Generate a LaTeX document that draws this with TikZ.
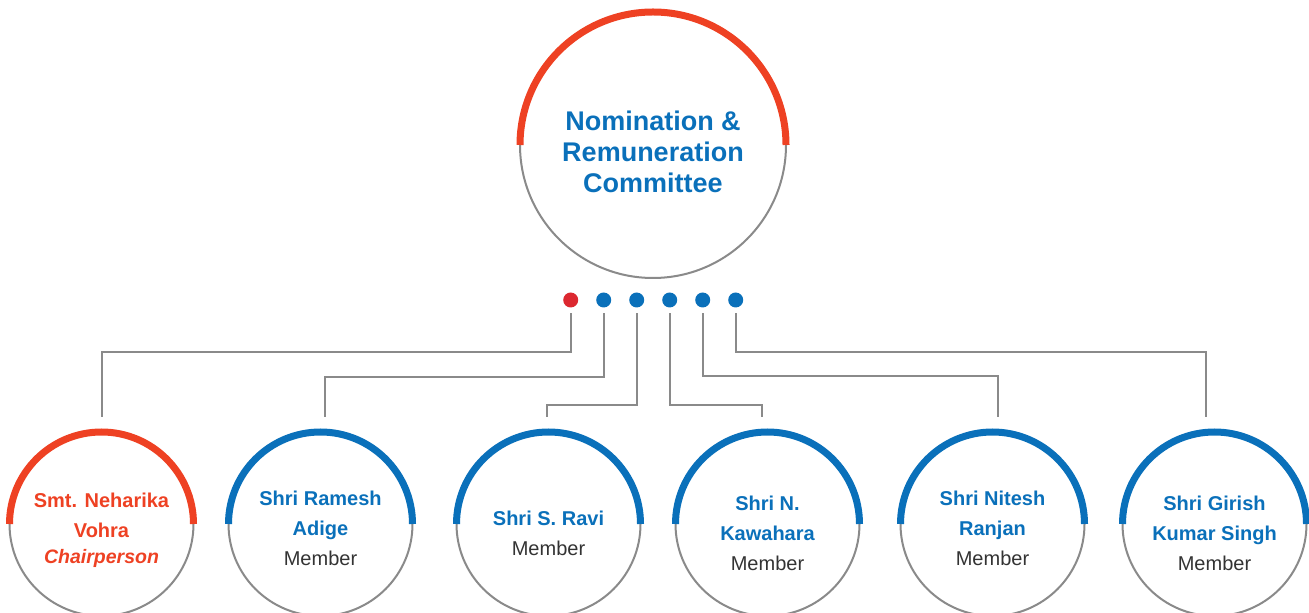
\documentclass[tikz,border=0pt]{standalone}
\usepackage{fontspec}
\setmainfont{Liberation Sans}
\usetikzlibrary{calc}
\definecolor{nrcred}{HTML}{EE4123}
\definecolor{dotred}{HTML}{DC2830}
\definecolor{nrcblue}{HTML}{0A70BA}
\definecolor{linegray}{HTML}{8A8A8A}
\definecolor{textgray}{HTML}{333333}
\newcommand{\member}{{\color{textgray}\mdseries Member}}
\begin{document}
\begin{tikzpicture}[x=1pt, y=1pt, ring/.style={circle, draw=linegray, line width=2pt, minimum size=#1, inner sep=0pt}, arcline/.style={draw=#1, line width=7pt}, bead/.style={circle, fill=#1, minimum size=15pt, inner sep=0pt}, link/.style={draw=linegray, line width=2.2pt}, who/.style={align=center, text=nrcblue, font=\bfseries\fontsize{20}{30}\selectfont}]
	\useasboundingbox (0,0) rectangle (1309,613);
	% committee
	\node[ring=266pt] (nrc) at (653,468) {};
	\draw[arcline=nrcred] ($(nrc.center)+(-133,0)$) arc (180:0:133);
	\node[align=center, text=nrcblue, font=\bfseries\fontsize{27}{31}\selectfont] (nrctext) at (653,461) {Nomination \&\\Remuneration\\Committee};
	% dots
	\foreach \i/\x/\c in {1/570.7/dotred, 2/603.7/nrcblue, 3/636.7/nrcblue, 4/669.7/nrcblue, 5/702.7/nrcblue, 6/735.7/nrcblue}
		\node[bead=\c] (d\i) at (\x,313) {};
	% members
	\foreach \i/\x/\c in {1/101.5/nrcred, 2/320.5/nrcblue, 3/548.5/nrcblue, 4/767.5/nrcblue, 5/992.5/nrcblue, 6/1214.5/nrcblue} {
		\node[ring=184pt] (m\i) at (\x,89) {};
		\draw[arcline=\c] ($(m\i.center)+(-92,0)$) arc (180:0:92);
	}
	\node[who, text=nrcred] (t1) at (101.5,83) {Smt. Neharika\\Vohra\\[-4pt]{\itshape\fontsize{19.5}{24}\selectfont Chairperson}};
	\node[who] (t2) at (320.5,85) {Shri Ramesh\\Adige\\\member};
	\node[who] (t3) at (548.5,80) {Shri S. Ravi\\\member};
	\node[who] (t4) at (767.5,80) {Shri N.\\Kawahara\\\member};
	\node[who] (t5) at (992.5,85) {Shri Nitesh\\Ranjan\\\member};
	\node[who] (t6) at (1214.5,80) {Shri Girish\\Kumar Singh\\\member};
	% connectors
	\coordinate (e1) at (102,196);
	\coordinate (e2) at (325,196);
	\coordinate (e3) at (547,196);
	\coordinate (e4) at (762,196);
	\coordinate (e5) at (998,196);
	\coordinate (e6) at (1206,196);
	\draw[link] ([yshift=-5.5pt]d1.south) |- (e1 |- 0,261) -- (e1);
	\draw[link] ([yshift=-5.5pt]d2.south) |- (e2 |- 0,236) -- (e2);
	\draw[link] ([yshift=-5.5pt]d3.south) |- (e3 |- 0,208) -- (e3);
	\draw[link] ([yshift=-5.5pt]d4.south) |- (e4 |- 0,208) -- (e4);
	\draw[link] ([yshift=-5.5pt]d5.south) |- (e5 |- 0,237) -- (e5);
	\draw[link] ([yshift=-5.5pt]d6.south) |- (e6 |- 0,261) -- (e6);
\end{tikzpicture}
\end{document}
